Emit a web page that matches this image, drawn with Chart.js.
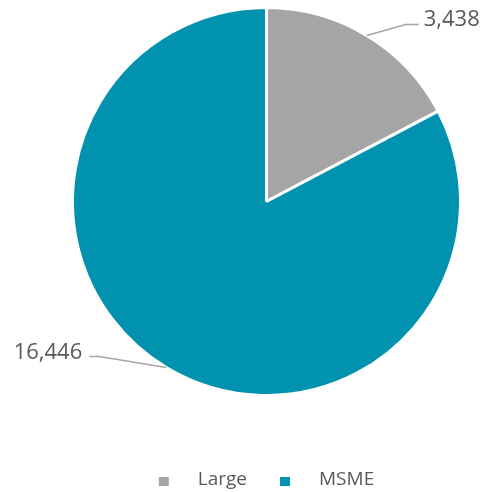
<!DOCTYPE html>
<html>
<head>
<meta charset="utf-8">
<script src="https://cdn.jsdelivr.net/npm/chart.js@4"></script>
<style>
  html, body { margin: 0; padding: 0; background: #ffffff; }
  #wrap { position: relative; width: 483px; height: 492px; }
</style>
</head>
<body>
<div id="wrap"><canvas id="c" width="483" height="492"></canvas></div>
<script>
const categories = ['Large', 'MSME'];
const values = [3438, 16446];
const valueLabels = ['3,438', '16,446'];
const colors = ['#A5A5A5', '#0092AF'];

// leader line geometry relative to the slice edge midpoint: [elbow dx, elbow dy, horizontal run]
const leaders = [[39, -11, 13], [-67, -11, -10]];

const leaderLabelPlugin = {
  id: 'leaderLabels',
  afterDatasetsDraw(chart) {
    const ctx = chart.ctx;
    const meta = chart.getDatasetMeta(0);
    meta.data.forEach((arc, i) => {
      const p = arc.getProps(['x', 'y', 'startAngle', 'endAngle', 'outerRadius'], true);
      const mid = (p.startAngle + p.endAngle) / 2;
      const ex = p.x + Math.cos(mid) * p.outerRadius;
      const ey = p.y + Math.sin(mid) * p.outerRadius;
      const [dx, dy, run] = leaders[i];
      const bx = ex + dx, by = ey + dy;
      const hx = bx + run;
      ctx.save();
      ctx.strokeStyle = '#A5A5A5';
      ctx.lineWidth = 1.5;
      ctx.beginPath();
      ctx.moveTo(ex, ey);
      ctx.lineTo(bx, by);
      ctx.lineTo(hx, by);
      ctx.stroke();
      ctx.fillStyle = '#595959';
      ctx.font = '22px "Open Sans"';
      ctx.textBaseline = 'alphabetic';
      if (run >= 0) {
        ctx.textAlign = 'left';
        ctx.fillText(valueLabels[i], hx + 5, by + 2);
      } else {
        ctx.textAlign = 'right';
        ctx.fillText(valueLabels[i], hx - 7, by + 2);
      }
      ctx.restore();
    });
  }
};

const legendPlugin = {
  id: 'bottomLegend',
  afterDraw(chart) {
    const ctx = chart.ctx;
    ctx.save();
    ctx.font = '19px "Open Sans"';
    const box = 10, gap = 29, spacing = 33;
    const widths = categories.map(t => ctx.measureText(t).width);
    let total = 0;
    widths.forEach((w, i) => { total += box + gap + w + (i < widths.length - 1 ? spacing : 0); });
    const cx = (chart.chartArea.left + chart.chartArea.right) / 2;
    let x = cx - total / 2;
    const baseline = 485;
    categories.forEach((t, i) => {
      ctx.fillStyle = colors[i];
      ctx.fillRect(x, baseline - 8, box, box - 1);
      ctx.fillStyle = '#595959';
      ctx.textAlign = 'left';
      ctx.textBaseline = 'alphabetic';
      ctx.fillText(t, x + box + gap, baseline);
      x += box + gap + widths[i] + spacing;
    });
    ctx.restore();
  }
};

new Chart(document.getElementById('c'), {
  type: 'pie',
  data: {
    labels: categories,
    datasets: [{
      data: values,
      backgroundColor: colors,
      borderColor: '#ffffff',
      borderWidth: 3
    }]
  },
  options: {
    responsive: false,
    animation: false,
    events: [],
    layout: { padding: { left: 71, right: 21, top: 6, bottom: 95 } },
    plugins: {
      legend: { display: false },
      tooltip: { enabled: false }
    }
  },
  plugins: [leaderLabelPlugin, legendPlugin]
});
</script>
</body>
</html>
